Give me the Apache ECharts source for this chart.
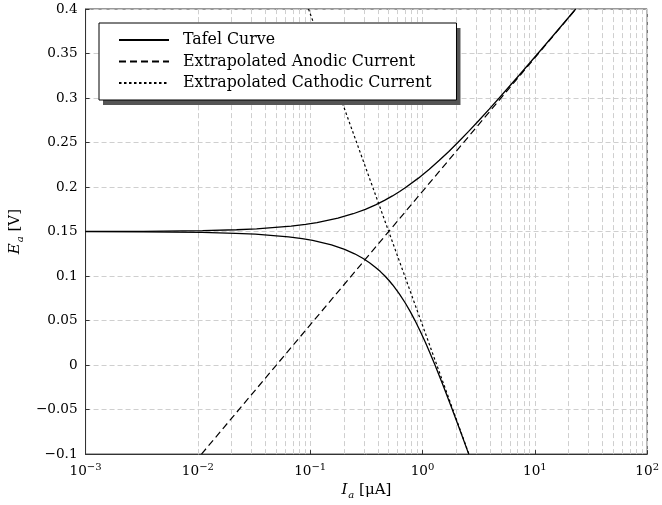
<!DOCTYPE html>
<html>
<head>
<meta charset="utf-8">
<script src="https://cdn.jsdelivr.net/npm/echarts@6/dist/echarts.min.js"></script>
<style>
  html, body { margin: 0; padding: 0; background: #fff; }
  #chart { width: 662px; height: 505px; }
</style>
</head>
<body>
<div id="chart"></div>
<script>
// Tafel curve, upper (anodic) branch: potential [V] and current [uA]
const upperE = [0.15009, 0.1503, 0.151, 0.152, 0.153, 0.156, 0.158, 0.16, 0.165, 0.17, 0.175, 0.18, 0.185, 0.19, 0.195, 0.2, 0.21, 0.22, 0.23, 0.24, 0.25, 0.2625, 0.275, 0.2875, 0.3, 0.325, 0.35, 0.375, 0.4]
const upperI = [0.001, 0.00329, 0.0110, 0.0221, 0.0333, 0.0676, 0.0909, 0.1148, 0.1765, 0.2413, 0.3097, 0.382, 0.4585, 0.540, 0.6258, 0.717, 0.919, 1.1488, 1.412, 1.714, 2.062, 2.573, 3.187, 3.925, 4.814, 7.181, 10.64, 15.70, 23.11]
// Tafel curve, lower (cathodic) branch
const lowerE = [0.14991, 0.1497, 0.149, 0.148, 0.147, 0.144, 0.142, 0.14, 0.135, 0.13, 0.125, 0.12, 0.115, 0.11, 0.105, 0.1, 0.095, 0.09, 0.08, 0.07, 0.06, 0.05, 0.0375, 0.025, 0.0125, 0, -0.0125, -0.025, -0.05, -0.075, -0.1]
const lowerI = [0.001, 0.00329, 0.0109, 0.0217, 0.0325, 0.0641, 0.0848, 0.1052, 0.1547, 0.2025, 0.2487, 0.2936, 0.3373, 0.3799, 0.4217, 0.4627, 0.5031, 0.5429, 0.6217, 0.6999, 0.7783, 0.8576, 0.9592, 1.0645, 1.1749, 1.2914, 1.4150, 1.5471, 1.8406, 2.1812, 2.5790]
// extrapolated Tafel lines
const anodicI = [0.01077, 23.2]
const anodicE = [-0.1, 0.4]
const cathodicI = [0.0966, 2.588]
const cathodicE = [0.4, -0.1]

const legendNames = ['Tafel Curve', 'Extrapolated Anodic Current', 'Extrapolated Cathodic Current']

const FONT = 'DejaVu Serif'
const GRID_COLOR = '#cfcfcf'

function pairs(xs, ys) {
  return xs.map(function (x, i) { return [x, ys[i]] })
}

// minor vertical grid positions 2..9 in each decade
const minorX = []
for (let d = -3; d < 2; d++) {
  for (let k = 2; k <= 9; k++) {
    minorX.push({ xAxis: k * Math.pow(10, d) })
  }
}

function lineSeries(name, data, type, width) {
  return {
    name: name,
    type: 'line',
    data: data,
    showSymbol: false,
    symbol: 'none',
    silent: true,
    animation: false,
    lineStyle: { color: '#000', width: width, type: type },
    itemStyle: { color: '#000' },
    z: 3
  }
}

const nameRich = {
  i: { fontFamily: FONT, fontSize: 15, fontStyle: 'italic', color: '#000', verticalAlign: 'top' },
  sub: { fontFamily: FONT, fontSize: 10, fontStyle: 'italic', color: '#000', verticalAlign: 'top', padding: [7, 0, 0, 1] },
  n: { fontFamily: FONT, fontSize: 15, color: '#000', verticalAlign: 'top' }
}

// shared legend layout; drawn twice: once with fill + shadow, once with the border on top
function legendBase() {
  return {
    data: legendNames,
    orient: 'vertical',
    left: 99,
    top: 23,
    padding: [9, 25, 9, 19],
    itemGap: 5.5,
    itemWidth: 50,
    itemHeight: 14,
    borderRadius: 0,
    selectedMode: false,
    itemStyle: { opacity: 0 },
    textStyle: {
      fontFamily: FONT,
      fontSize: 15.8,
      color: '#000',
      padding: [0, 0, 0, 9]
    }
  }
}

let legendFill = legendBase()
legendFill.backgroundColor = '#fff'
legendFill.borderWidth = 0
legendFill.shadowColor = '#555'
legendFill.shadowBlur = 0
legendFill.shadowOffsetX = 4
legendFill.shadowOffsetY = 5
legendFill.z = 8

let legendFrame = legendBase()
legendFrame.backgroundColor = 'transparent'
legendFrame.borderColor = '#000'
legendFrame.borderWidth = 1
legendFrame.lineStyle = { opacity: 0 }
legendFrame.textStyle.color = 'rgba(0,0,0,0)'
legendFrame.z = 9

let option = {
  animation: false,
  grid: {
    left: 85,
    right: 10,
    top: 9,
    bottom: 49,
    show: true,
    borderColor: '#333',
    borderWidth: 1
  },
  legend: [legendFill, legendFrame],
  xAxis: {
    type: 'log',
    logBase: 10,
    min: 0.001,
    max: 100,
    name: '{i|I}{sub|a}{n| [μA]}',
    nameLocation: 'middle',
    nameGap: 24,
    nameTextStyle: { rich: nameRich },
    axisLine: { show: true, onZero: false, lineStyle: { color: '#333' } },
    axisTick: { show: true, inside: true, length: 4, lineStyle: { color: '#333' } },
    axisLabel: {
      margin: 8,
      formatter: function (v) {
        let e = Math.round(Math.log10(v))
        return '{b|10}{s|' + String(e).replace('-', '−') + '}'
      },
      rich: {
        b: { fontFamily: FONT, fontSize: 13.6, color: '#000', verticalAlign: 'bottom' },
        s: { fontFamily: FONT, fontSize: 10, color: '#000', verticalAlign: 'bottom', padding: [0, 0, 6, 0] }
      }
    },
    splitLine: { show: true, lineStyle: { color: GRID_COLOR, type: [5, 3], width: 1 } }
  },
  yAxis: {
    type: 'value',
    min: -0.1,
    max: 0.4,
    interval: 0.05,
    name: '{i|E}{sub|a}{n| [V]}',
    nameLocation: 'middle',
    nameRotate: 90,
    nameGap: 56,
    nameTextStyle: { rich: nameRich },
    axisLine: { show: true, onZero: false, lineStyle: { color: '#333' } },
    axisTick: { show: true, inside: true, length: 4, lineStyle: { color: '#333' } },
    axisLabel: {
      margin: 8,
      fontFamily: FONT,
      fontSize: 13.6,
      color: '#000',
      formatter: function (v) {
        return String(parseFloat(v.toFixed(2))).replace('-', '−')
      }
    },
    splitLine: { show: true, lineStyle: { color: GRID_COLOR, type: [5, 3], width: 1 } }
  },
  series: [
    {
      name: 'minor-grid',
      type: 'line',
      data: [],
      silent: true,
      z: 1,
      markLine: {
        z: 1,
        silent: true,
        symbol: 'none',
        label: { show: false },
        animation: false,
        lineStyle: { color: GRID_COLOR, type: [5, 3], width: 1 },
        data: minorX
      }
    },
    lineSeries('Tafel Curve', pairs(upperI, upperE), 'solid', 1.3),
    lineSeries('Tafel Curve', pairs(lowerI, lowerE), 'solid', 1.3),
    lineSeries('Extrapolated Anodic Current', pairs(anodicI, anodicE), [7, 4], 1.2),
    lineSeries('Extrapolated Cathodic Current', pairs(cathodicI, cathodicE), [2.5, 2.5], 1.2)
  ]
}

let chart = echarts.init(document.getElementById('chart'))
chart.setOption(option)
</script>
</body>
</html>
